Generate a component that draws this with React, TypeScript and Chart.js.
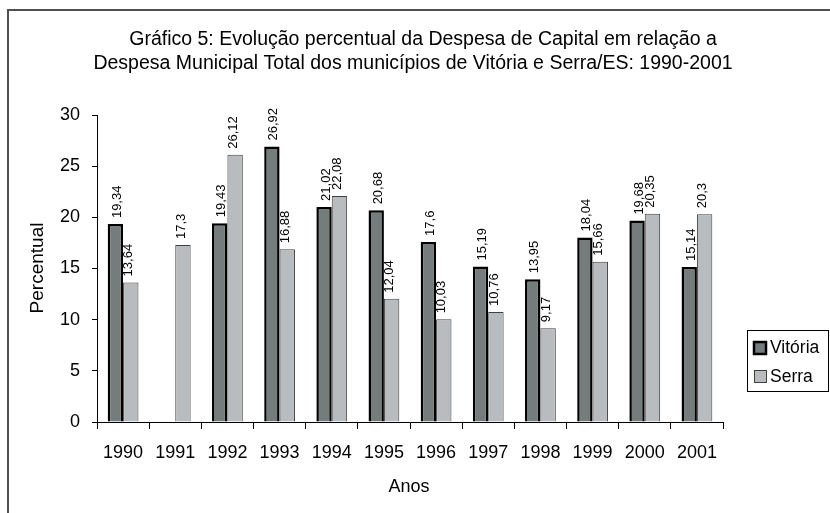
import React, { useEffect, useRef } from "react";
import { Chart, registerables } from "chart.js";

Chart.register(...registerables);

const years = ["1990", "1991", "1992", "1993", "1994", "1995", "1996", "1997", "1998", "1999", "2000", "2001"];
const vitoria: (number | null)[] = [19.34, null, 19.43, 26.92, 21.02, 20.68, 17.6, 15.19, 13.95, 18.04, 19.68, 15.14];
const serra: (number | null)[] = [13.64, 17.3, 26.12, 16.88, 22.08, 12.04, 10.03, 10.76, 9.17, 15.66, 20.35, 20.3];
const seriesNames = ["Vitória", "Serra"];
const titleLines = [
  "Gráfico 5: Evolução percentual da Despesa de Capital em relação a",
  "Despesa Municipal Total dos municípios de Vitória e Serra/ES: 1990-2001",
];
const xTitle = "Anos";
const yTitle = "Percentual";
const yMin = 0;
const yMax = 30;
const yStep = 5;

const FONT = '"Liberation Sans", Arial, sans-serif';
const VIT_FILL = "#757c7c";
const SER_FILL = "#b8bcbe";

export default function App() {
  const ref = useRef<HTMLCanvasElement>(null);

  useEffect(() => {
    const canvas = ref.current;
    if (!canvas) return;

    const framePlugin = {
      id: "frame",
      beforeDraw(chart: any) {
        const ctx = chart.ctx;
        ctx.save();
        ctx.fillStyle = "#ffffff";
        ctx.fillRect(0, 0, chart.width, chart.height);
        ctx.strokeStyle = "#505050";
        ctx.lineWidth = 2;
        ctx.beginPath();
        ctx.moveTo(8, chart.height + 2);
        ctx.lineTo(8, 10);
        ctx.lineTo(chart.width + 2, 10);
        ctx.stroke();
        ctx.restore();
      },
    };

    const textPlugin = {
      id: "texts",
      afterDraw(chart: any) {
        const ctx = chart.ctx;
        ctx.save();
        ctx.fillStyle = "#000";
        ctx.textBaseline = "middle";
        ctx.textAlign = "center";
        ctx.font = `19.5px ${FONT}`;
        ctx.fillText(titleLines[0], 423, 40);
        ctx.fillText(titleLines[1], 413, 64);
        ctx.font = `18px ${FONT}`;
        ctx.fillText(xTitle, 409, 487);
        ctx.save();
        ctx.translate(38, 268);
        ctx.rotate(-Math.PI / 2);
        ctx.font = `19px ${FONT}`;
        ctx.fillText(yTitle, 0, 0);
        ctx.restore();

        // legend
        ctx.strokeStyle = "#000";
        ctx.lineWidth = 1;
        ctx.strokeRect(747.5, 330.5, 81, 61);
        ctx.fillStyle = VIT_FILL;
        ctx.fillRect(754, 342, 12, 12);
        ctx.lineWidth = 2.5;
        ctx.strokeRect(754, 342, 12, 12);
        ctx.fillStyle = SER_FILL;
        ctx.fillRect(754, 370, 12, 12);
        ctx.lineWidth = 1;
        ctx.strokeStyle = "#404040";
        ctx.strokeRect(754.5, 370.5, 12, 12);
        ctx.fillStyle = "#000";
        ctx.textAlign = "left";
        ctx.font = `17.5px ${FONT}`;
        ctx.fillText(seriesNames[0], 770, 348);
        ctx.fillText(seriesNames[1], 770, 377);
        ctx.restore();
      },
    };

    const labelPlugin = {
      id: "barLabels",
      beforeDatasetsDraw(chart: any) {
        const ctx = chart.ctx;
        ctx.save();
        ctx.fillStyle = "#000";
        ctx.font = `13px ${FONT}`;
        ctx.textAlign = "left";
        ctx.textBaseline = "middle";
        chart.data.datasets.forEach((ds: any, di: number) => {
          const meta = chart.getDatasetMeta(di);
          meta.data.forEach((bar: any, i: number) => {
            const v = ds.data[i];
            if (v === null || v === undefined) return;
            const txt = String(v).replace(".", ",");
            const dx = di === 0 ? 2 : -2;
            ctx.save();
            ctx.translate(bar.x + dx, bar.y - 6);
            ctx.rotate(-Math.PI / 2);
            ctx.fillText(txt, 0, 0);
            ctx.restore();
          });
        });
        ctx.restore();
      },
    };

    const chart = new Chart(canvas, {
      type: "bar",
      data: {
        labels: years,
        datasets: [
          {
            label: seriesNames[0],
            data: vitoria,
            backgroundColor: VIT_FILL,
            borderColor: "#000",
            borderWidth: 2.5,
            categoryPercentage: 0.59,
            barPercentage: 1,
          },
          {
            label: seriesNames[1],
            data: serra,
            backgroundColor: SER_FILL,
            borderColor: "#404040",
            borderWidth: 1,
            categoryPercentage: 0.59,
            barPercentage: 1,
          },
        ],
      },
      options: {
        responsive: false,
        animation: false,
        layout: { padding: { top: 115, right: 107, bottom: 0, left: 0 } },
        plugins: {
          legend: { display: false },
          tooltip: { enabled: false },
          title: { display: false },
        },
        scales: {
          x: {
            grid: {
              offset: true,
              drawOnChartArea: false,
              drawTicks: true,
              tickLength: 7,
              color: "#000",
            },
            border: { display: true, color: "#000", width: 1 },
            ticks: {
              color: "#000",
              font: { family: FONT, size: 18 },
              padding: 13,
              maxRotation: 0,
              autoSkip: false,
            },
            afterFit(scale: any) {
              scale.height = 91;
            },
          },
          y: {
            min: yMin,
            max: yMax,
            grid: {
              drawOnChartArea: false,
              drawTicks: true,
              tickLength: 5,
              color: "#000",
            },
            border: { display: true, color: "#000", width: 1 },
            ticks: {
              stepSize: yStep,
              color: "#000",
              font: { family: FONT, size: 18 },
              padding: 12,
            },
            afterFit(scale: any) {
              scale.width = 97;
            },
          },
        },
      },
      plugins: [framePlugin, labelPlugin, textPlugin],
    });

    return () => chart.destroy();
  }, []);

  return (
    <div style={{ position: "fixed", left: 0, top: 0, width: 830, height: 513, background: "#fff" }}>
      <canvas ref={ref} width={830} height={513} style={{ display: "block" }} />
    </div>
  );
}
